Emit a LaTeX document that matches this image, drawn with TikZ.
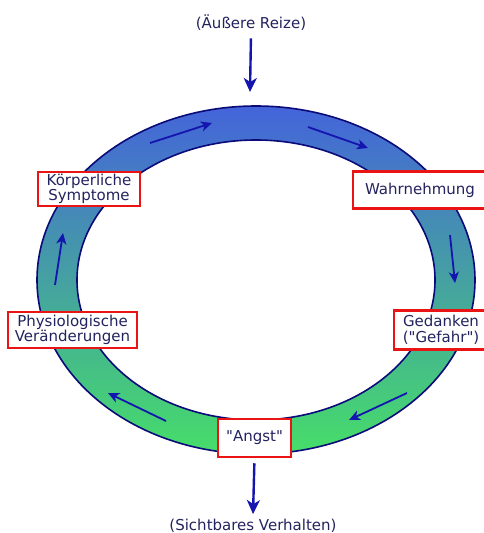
\documentclass[tikz,border=0pt]{standalone}
\usepackage{fontspec}
\setmainfont{DejaVu Sans}
\usetikzlibrary{arrows.meta,positioning}
\definecolor{ringnavy}{RGB}{10,10,120}
\definecolor{arrowblue}{RGB}{20,20,175}
\definecolor{textnavy}{RGB}{35,35,95}
\definecolor{ringblue}{RGB}{68,100,218}
\definecolor{ringgreen}{RGB}{70,222,105}
\definecolor{boxred}{RGB}{235,20,20}

\begin{document}
\begin{tikzpicture}[
    x=1pt,y=-1pt,
    stage/.style={draw=boxred,line width=2.5pt,fill=white,text=textnavy,font=\fontsize{15}{15.5}\selectfont,align=center,inner sep=0pt},
    extern/.style={text=textnavy,font=\fontsize{15}{15.5}\selectfont},
    flow/.style={-{Stealth[length=14pt,width=13pt,inset=4pt]},line width=2.4pt,arrowblue},
    ringarrow/.style={-{Stealth[length=11pt,width=10pt,inset=3pt]},line width=1.8pt,arrowblue}
]
    \useasboundingbox (0,0) rectangle (484,533);

    % Ring
    \shade[top color=ringblue,bottom color=ringgreen,even odd rule]
        (256,280) ellipse [x radius=219,y radius=174]
        (256,280) ellipse [x radius=179,y radius=140];
    \draw[ringnavy,line width=1.6pt] (256,280) ellipse [x radius=219,y radius=174];
    \draw[ringnavy,line width=1.6pt] (256,280) ellipse [x radius=179,y radius=140];

    % Arrows on the ring
    \draw[ringarrow] (150,143) -- (212,123);
    \draw[ringarrow] (308,127) -- (368,148);
    \draw[ringarrow] (450,235) -- (455,283);
    \draw[ringarrow] (407,393) -- (349,420);
    \draw[ringarrow] (166,421) -- (108,393);
    \draw[ringarrow] (55,285) -- (63,233);

    % Stages
    \node[stage,minimum width=102pt,minimum height=34pt] (koerper) at (89,189) {Körperliche\\Symptome};
    \node[stage,minimum width=134pt,minimum height=37pt] (wahr) at (420,190) {Wahrnehmung};
    \node[stage,minimum width=129pt,minimum height=36pt] (physio) at (72.5,330) {Physiologische\\Veränderungen};
    \node[stage,minimum width=94pt,minimum height=39pt] (gedanken) at (441,330) {Gedanken\\(\textquotedbl Gefahr\textquotedbl)};
    \node[stage,minimum width=73pt,minimum height=38pt] (angst) at (254.5,438) {\textquotedbl Angst\textquotedbl};

    % In and out
    \node[extern] (reize) at (251,23) {(Äußere Reize)};
    \coordinate (ringtop) at (250,92);
    \draw[flow,shorten <=4pt] (reize.south) -- (ringtop);

    \node[extern,anchor=base] (verhalten) at (253,530) {(Sichtbares Verhalten)};
    \draw[flow,shorten <=5pt,shorten >=1pt] (angst.south) -- (verhalten.north);
\end{tikzpicture}
\end{document}
